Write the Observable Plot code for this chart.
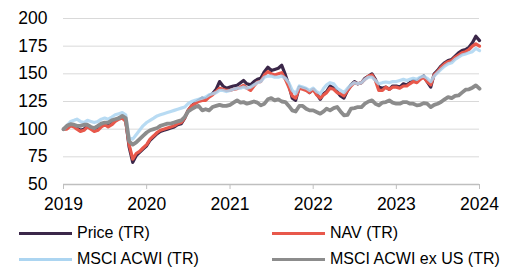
<!DOCTYPE html>
<html><head><meta charset="utf-8">
<script src="https://cdn.jsdelivr.net/npm/d3@7"></script>
<script src="https://cdn.jsdelivr.net/npm/@observablehq/plot@0.6"></script>
<style>
html,body{margin:0;padding:0;background:#fff;}
body{width:515px;height:267px;overflow:hidden;font-family:"Liberation Sans",Arial,sans-serif;}
#legend{position:relative;height:47px;font-size:16px;color:#000;}
.item{position:absolute;display:flex;align-items:center;white-space:nowrap;}
.sw{width:53px;height:3px;margin-right:5px;}
</style></head>
<body>
<div id="chart"></div>
<div id="legend"></div>
<script>
// half-monthly observations, 2019-01-01 .. 2024-01-01
const startYear = 2019;
const seriesNames = ["Price (TR)", "NAV (TR)", "MSCI ACWI (TR)", "MSCI ACWI ex US (TR)"];
const seriesColors = ["#3b2749", "#e8584b", "#acd5f1", "#8c8c8c"];
const yTicks = [50, 75, 100, 125, 150, 175, 200];
const xTickYears = [2019, 2020, 2021, 2022, 2023, 2024];

const price = [100,101,104,103,101,99,100,103,101,99,100,103,105,103,105,108,110,111,108,84,
  70,76,79,82,85,90,93,96,98,99,100,101,102,104,105,110,117,121,124,126,
  128,127,130,132,136,143,139,137,138,139,139.6,142,144,141,140,143,145,146,152,156,
  153,154,155,157.7,149,140,128,126,138,137,136,133,136,132,127,132,134,139,137,134,
  130,128,135,140,143,141,142,146,148,150,145,138,137,138,136,139,139,138,141,140,
  142,144,143,146,148,143,138,150,153,157,160,162,163,166,169,171,172,174,178,184,180];
const nav = [100,100,103,102,100,98,99,102,100,98,99,102,104,102,104,107,109,110,107,86,
  73,78,80,83,86,91,94,97,99,100,101,102,103,105,106,110,117,121,123,125,
  126,126,129,131,134,137,136,135,135,136,136.6,138,139.6,137,135,139,142.6,143,149,152,
  150,149,150,151,145,138,130,128,137,136,135,133,136,131,128,131,133,137,136,133,
  132,130,135,139,142,141,142,145,148,149,144,135,135,138,136,138,138,137,139,139,
  141,143,142,145,147,143,140,149,152,156,159,161,162,165,167,169,170,172,175,177,175];
const acwi = [100,103,107,108,109,107,106,108,107,106,107,109,110,109,111,113,114,115,113,92,
  91,95,99,103,106,108,110,112,113,114,115,116,117,118,119,120,123,125,126,127,
  128,129,131,132,133,135,135,134,135,136,137,137,138,137,138,140,142,143,147,148,
  148,147,147,148,146,142,135,132,139,138,137,135,137,134,132,137,140,142,141,137,
  135,133,137,140,142,141,142,145,147,147,144,141,142,142.6,142,143,143,144,145,144,
  145,146,145,147,148,146,143,148,151,154,157,159,160,163,165,167,168,169,170,173,171];
const exUS = [100,103,104.5,104,103,103,104,104,102,101,103,105,106,106,108,109,110,112,110,89,
  86,88,91,94,97,99,100,101,103,104,105,105,106,107,108,111,116,118,120,121,
  117,118,117,120,121,122,121,121,122,124,126,124,124.5,123,124,125,124,121.5,123,127,
  128,126,127,125,124.5,121,117,116,121,121,118.5,117,117,115.5,114,116,118.5,117,119,120,
  116,112.5,113,118.5,119,120,120,123,125,126,123,121.5,124,124.5,126,124,123,123,124.5,124.5,
  123,123,121.5,122,123.5,123,120,122,123,124.5,127,129,128,130,130.5,133,135.7,136,137.5,139.6,136.6];

const allValues = [price, nav, acwi, exUS];
function dateAt(i) {
  const y = startYear + Math.floor(i / 24);
  const m = Math.floor((i % 24) / 2);
  const d = (i % 2) ? 16 : 1;
  return new Date(Date.UTC(y, m, d));
}
const rows = [];
allValues.forEach((arr, s) => arr.forEach((v, i) => rows.push({date: dateAt(i), value: v, series: seriesNames[s]})));

const lineFor = (s, extra = {}) => Plot.line(rows.filter(r => r.series === seriesNames[s]), {
  x: "date", y: "value", stroke: seriesColors[s], strokeWidth: 3.2, strokeLinejoin: "round", ...extra
});

const chart = Plot.plot({
  width: 515, height: 220,
  marginLeft: 63, marginRight: 36, marginTop: 18, marginBottom: 36,
  style: {fontFamily: "'Liberation Sans', Arial, sans-serif", fontSize: "17.5px", color: "#000", background: "#fff"},
  x: {type: "utc", domain: [new Date(Date.UTC(2019,0,1)), new Date(Date.UTC(2024,0,1))]},
  y: {domain: [50, 200]},
  marks: [
    Plot.ruleY(yTicks.filter(t => t > 50), {stroke: "#d9d9d9", strokeWidth: 1}),
    Plot.ruleY([50], {stroke: "#bfbfbf", strokeWidth: 1.5}),
    Plot.axisY({ticks: yTicks, tickSize: 0, tickPadding: 16, label: null, tickFormat: d => String(d)}),
    Plot.axisX({ticks: xTickYears.map(y => new Date(Date.UTC(y,0,1))), tickSize: 5, tickPadding: 8,
      stroke: "#bfbfbf", label: null, tickFormat: d => String(d.getUTCFullYear())}),
    lineFor(0), lineFor(1), lineFor(2, {strokeOpacity: 0.85}), lineFor(3, {strokeWidth: 3.8})
  ]
});
chart.querySelectorAll('g[aria-label="x-axis tick"] path').forEach(p => p.setAttribute("stroke", "#bfbfbf"));
document.getElementById("chart").appendChild(chart);

const legend = document.getElementById("legend");
const pos = [[19, 13], [272, 13], [19, 39], [272, 39]];
seriesNames.forEach((n, i) => {
  const it = document.createElement("div");
  it.className = "item";
  it.style.left = pos[i][0] + "px";
  it.style.top = (pos[i][1] - 10) + "px";
  it.style.height = "20px";
  const sw = document.createElement("span");
  sw.className = "sw"; sw.style.background = seriesColors[i];
  const tx = document.createElement("span");
  tx.textContent = n;
  it.appendChild(sw); it.appendChild(tx);
  legend.appendChild(it);
});
</script>
</body></html>
